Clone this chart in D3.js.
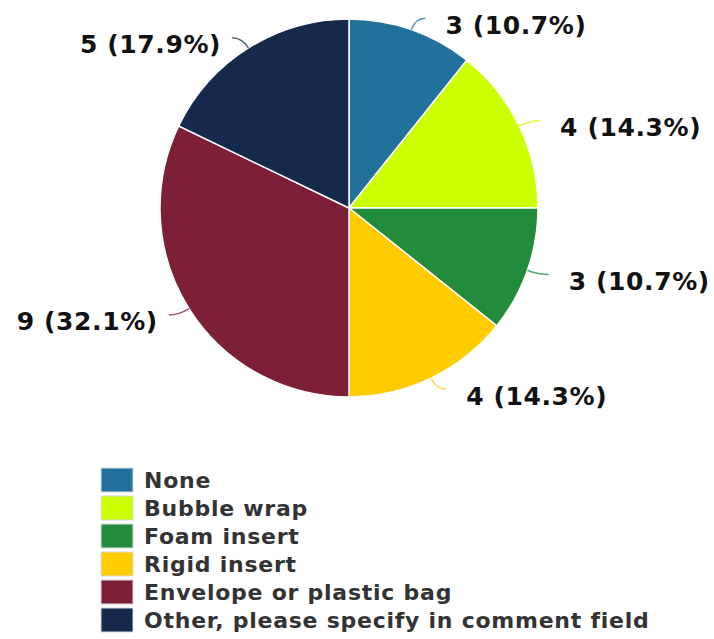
<!DOCTYPE html>
<html lang="en">
<head>
<meta charset="utf-8">
<title>Packaging pie</title>
<script src="https://d3js.org/d3.v7.min.js"></script>
<style>
    body { margin: 0; background: #fff; }
    svg text { font-family: "DejaVu Sans", sans-serif; font-weight: bold; }
</style>
</head>
<body>
<svg id="chart" width="714" height="639"></svg>
<script>
// data
const categories = ["None", "Bubble wrap", "Foam insert", "Rigid insert",
                    "Envelope or plastic bag", "Other, please specify in comment field"];
const counts = [3, 4, 3, 4, 9, 5];
const colours = ["#22719a", "#ccff00", "#238b3c", "#ffcc00", "#7c1f37", "#15294c"];

const svg = d3.select("#chart");
const cx = 349, cy = 208, r = 189;
const total = d3.sum(counts);

const rows = categories.map((c, i) => ({name: c, value: counts[i], colour: colours[i]}));

const pie = d3.pie().value(d => d.value).sort(null);
const arc = d3.arc().innerRadius(0).outerRadius(r);
const arcs = pie(rows);

const g = svg.append("g").attr("transform", "translate(" + cx + "," + cy + ")");

g.selectAll("path.slice").data(arcs).enter()
    .append("path").attr("class", "slice")
    .attr("d", arc)
    .attr("fill", d => d.data.colour)
    .attr("stroke", "#fff").attr("stroke-width", 1.5);

// leader lines + labels
function pt(a, rad) { return [rad * Math.sin(a), -rad * Math.cos(a)]; }

arcs.forEach(d => {
    let mid = (d.startAngle + d.endAngle) / 2;
    let right = Math.sin(mid) >= 0;
    let p0 = pt(mid, r), p1 = pt(mid, r + 12);
    let p2 = [p1[0] + (right ? 10 : -10), p1[1]];
    g.append("path")
        .attr("d", "M" + p0 + "Q" + p1 + " " + p2)
        .attr("fill", "none")
        .attr("stroke", d.data.colour)
        .attr("stroke-opacity", 0.75)
        .attr("stroke-width", 1.5);
    let pct = (d.data.value / total * 100).toFixed(1);
    g.append("text")
        .attr("x", p2[0] + (right ? 20 : -11))
        .attr("y", p2[1] + 15.5)
        .attr("text-anchor", right ? "start" : "end")
        .attr("font-size", 25)
        .attr("letter-spacing", 0.6)
        .attr("fill", "#111")
        .text(d.data.value + " (" + pct + "%)");
});

// legend
const legend = svg.append("g").attr("transform", "translate(101,468)");
const item = legend.selectAll("g.item").data(rows).enter()
    .append("g").attr("class", "item")
    .attr("transform", (d, i) => "translate(0," + i * 28 + ")");
item.append("rect")
    .attr("width", 32).attr("height", 24)
    .attr("fill", d => d.colour)
    .attr("stroke", "#ddd").attr("stroke-width", 1);
item.append("text")
    .attr("x", 43).attr("y", 20)
    .attr("font-size", 22)
    .attr("letter-spacing", 0.75)
    .attr("fill", "#333")
    .text(d => d.name);
</script>
</body>
</html>
